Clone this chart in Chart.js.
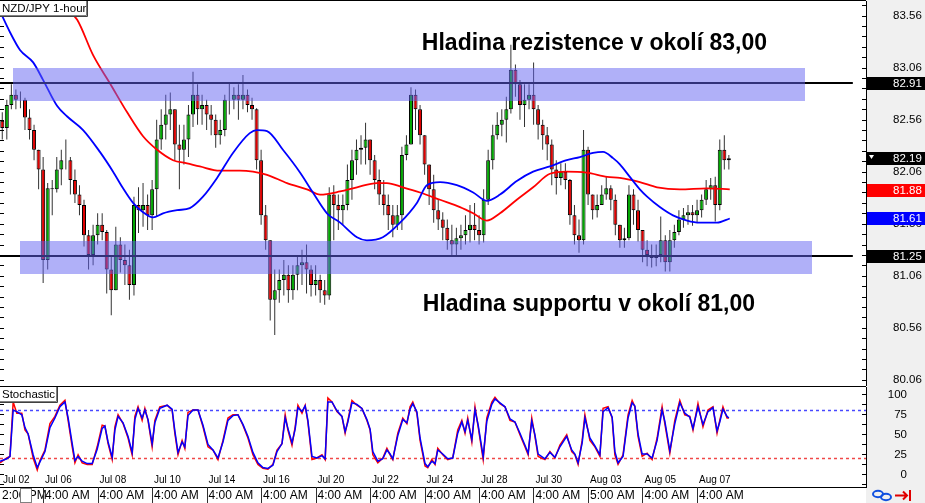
<!DOCTYPE html>
<html>
<head>
<meta charset="utf-8">
<title>NZD/JPY 1-hour</title>
<script src="https://cdn.jsdelivr.net/npm/chart.js@4.4.1/dist/chart.umd.min.js"></script>
<style>
  html, body { margin:0; padding:0; background:#ffffff; }
  #wrap { position:relative; width:925px; height:503px; overflow:hidden; background:#ffffff; }
  #mainCanvas { position:absolute; left:0; top:0; }
  #stochCanvas { position:absolute; left:0; top:386px; }
</style>
</head>
<body>
<div id="wrap">
  <canvas id="mainCanvas" width="925" height="386"></canvas>
  <canvas id="stochCanvas" width="925" height="117"></canvas>
</div>
<script>
// ---------------- DATA (x = index of 4-hour candle) ----------------
const symbolTitle = 'NZD/JPY 1-hour';
const indicatorTitle = 'Stochastic';

const firstOpen = 82.55;
const candleClose = [
  82.48, 82.70, 82.80, 82.75, 82.75, 82.58, 82.46, 82.27, 82.08, 81.21,
  81.90, 81.89, 82.08, 82.17, 82.17, 81.98, 81.84, 81.74, 81.45, 81.26,
  81.45, 81.55, 81.48, 81.12, 80.92, 81.36, 81.21, 81.16, 80.97, 81.74,
  81.69, 81.74, 81.64, 81.89, 82.37, 82.51, 82.61, 82.66, 82.32, 82.27,
  82.37, 82.61, 82.80, 82.66, 82.70, 82.61, 82.56, 82.41, 82.46, 82.75,
  82.75, 82.80, 82.75, 82.80, 82.70, 82.66, 82.17, 81.64, 81.40, 80.83,
  80.92, 81.02, 81.07, 80.92, 81.07, 81.16, 81.19, 81.12, 80.97, 81.02,
  80.92, 80.87, 81.84, 81.74, 81.69, 81.74, 81.98, 82.17, 82.27, 82.29,
  82.37, 82.17, 81.98, 81.84, 81.74, 81.64, 81.55, 81.64, 82.22, 82.32,
  82.80, 82.66, 82.41, 82.13, 81.89, 81.69, 81.60, 81.52, 81.40, 81.36,
  81.42, 81.45, 81.50, 81.55, 81.50, 81.45, 81.79, 82.17, 82.41, 82.51,
  82.56, 82.66, 83.04, 82.90, 82.70, 82.75, 82.80, 82.66, 82.51, 82.41,
  82.32, 82.08, 82.00, 82.06, 81.98, 81.64, 81.45, 81.40, 82.27, 81.84,
  81.69, 81.74, 81.84, 81.90, 81.79, 81.55, 81.40, 81.42, 81.84, 81.69,
  81.50, 81.31, 81.26, 81.23, 81.26, 81.40, 81.19, 81.40, 81.48, 81.60,
  81.64, 81.67, 81.64, 81.69, 81.79, 81.89, 81.93, 81.74, 82.27, 82.17,
  82.19
];
const candleHigh = [
  82.63, 82.75, 82.90, 82.85, 82.83, 82.77, 82.66, 82.51, 82.27, 82.20,
  81.95, 81.98, 82.20, 82.27, 82.37, 82.20, 82.08, 81.93, 81.79, 81.50,
  81.55, 81.66, 81.66, 81.50, 81.26, 81.53, 81.43, 81.36, 81.31, 81.82,
  81.91, 81.95, 81.84, 81.98, 82.56, 82.66, 82.80, 82.82, 82.66, 82.51,
  82.51, 82.70, 83.02, 82.90, 82.80, 82.75, 82.70, 82.61, 82.56, 82.80,
  82.91, 82.87, 82.90, 82.99, 82.85, 82.77, 82.67, 82.27, 81.74, 81.40,
  81.12, 81.12, 81.21, 81.16, 81.16, 81.26, 81.31, 81.36, 81.16, 81.16,
  81.07, 81.02, 81.91, 81.93, 81.84, 81.84, 82.13, 82.27, 82.37, 82.41,
  82.53, 82.37, 82.22, 82.08, 81.98, 81.84, 81.74, 81.74, 82.30, 82.41,
  82.87, 82.85, 82.70, 82.41, 82.13, 82.03, 81.79, 81.67, 81.60, 81.55,
  81.52, 81.55, 81.64, 81.74, 81.76, 81.64, 81.89, 82.27, 82.51, 82.63,
  82.66, 82.78, 83.28, 83.09, 82.94, 82.90, 82.90, 83.11, 82.70, 82.56,
  82.49, 82.37, 82.17, 82.14, 82.14, 81.99, 81.74, 81.60, 82.46, 82.30,
  81.84, 81.84, 81.93, 82.01, 81.93, 81.84, 81.55, 81.52, 81.93, 81.89,
  81.79, 81.50, 81.40, 81.36, 81.36, 81.63, 81.45, 81.50, 81.55, 81.69,
  81.71, 81.74, 81.74, 81.79, 81.84, 81.98, 82.00, 82.01, 82.37, 82.41,
  82.22
];
const candleLow = [
  82.37, 82.37, 82.66, 82.66, 82.67, 82.46, 82.37, 82.17, 81.89, 80.99,
  81.12, 81.64, 81.86, 81.93, 82.08, 81.84, 81.76, 81.64, 81.34, 81.12,
  81.16, 81.36, 81.40, 80.89, 80.68, 80.92, 81.09, 80.97, 80.83, 80.87,
  81.47, 81.53, 81.50, 81.50, 81.63, 82.27, 82.37, 82.46, 82.17, 81.89,
  82.13, 82.20, 82.49, 82.51, 82.51, 82.46, 82.41, 82.29, 82.32, 82.40,
  82.61, 82.66, 82.56, 82.66, 82.63, 82.56, 82.08, 81.55, 81.31, 80.63,
  80.49, 80.80, 80.87, 80.80, 80.83, 80.92, 80.97, 80.89, 80.86, 80.87,
  80.80, 80.78, 80.83, 81.40, 81.50, 81.55, 81.69, 81.79, 82.03, 82.13,
  82.13, 82.03, 81.89, 81.74, 81.64, 81.50, 81.43, 81.50, 81.50, 82.17,
  82.32, 82.46, 82.32, 82.03, 81.74, 81.57, 81.50, 81.40, 81.31, 81.24,
  81.26, 81.31, 81.36, 81.38, 81.40, 81.36, 81.38, 81.74, 82.08, 82.37,
  82.40, 82.34, 82.62, 82.78, 82.56, 82.49, 82.66, 82.51, 82.37, 82.27,
  82.17, 81.93, 81.84, 81.93, 81.89, 81.55, 81.36, 81.28, 81.36, 81.74,
  81.60, 81.62, 81.74, 81.79, 81.69, 81.45, 81.33, 81.33, 81.40, 81.55,
  81.39, 81.19, 81.15, 81.14, 81.15, 81.19, 81.10, 81.10, 81.33, 81.45,
  81.52, 81.55, 81.54, 81.57, 81.62, 81.74, 81.79, 81.58, 81.69, 82.08,
  82.08
];

// moving averages (x = candle index, y = price)
const maFastX = [-0.5, 1.7, 3.9, 6.8, 9.0, 12.1, 14.3, 17.8, 21.5, 24.4, 26.6, 28.8, 31.0, 33.2, 35.4, 38.5, 41.3, 44.2, 47.3, 50.8, 54.5, 56.1, 58.3, 61.8, 65.6, 68.4, 71.5, 74.4, 78.1, 80.3, 83.8, 87.6, 91.3, 93.5, 96.4, 100.1, 103.7, 106.7, 109.6, 113.3, 116.9, 120.6, 124.3, 127.2, 130.1, 132.3, 134.5, 136.0, 138.2, 140.4, 142.0, 144.8, 147.7, 150.8, 153.6, 157.4, 160.2];
const maFastY = [83.60, 83.40, 83.23, 83.11, 82.94, 82.69, 82.59, 82.46, 82.25, 82.06, 81.90, 81.76, 81.67, 81.62, 81.66, 81.69, 81.71, 81.82, 82.00, 82.24, 82.43, 82.46, 82.45, 82.27, 82.05, 81.86, 81.66, 81.57, 81.43, 81.40, 81.43, 81.57, 81.76, 81.93, 81.96, 81.93, 81.86, 81.78, 81.84, 81.97, 82.06, 82.11, 82.17, 82.20, 82.24, 82.25, 82.19, 82.13, 82.01, 81.89, 81.82, 81.72, 81.64, 81.59, 81.57, 81.57, 81.61];
const maSlowX = [6.1, 12.1, 16.5, 20.0, 23.7, 27.5, 31.0, 34.1, 37.6, 40.7, 43.5, 47.9, 52.3, 55.2, 58.3, 62.7, 67.1, 70.0, 74.4, 78.1, 82.5, 84.7, 88.2, 92.0, 96.4, 100.8, 103.7, 106.7, 109.6, 113.3, 116.9, 120.6, 124.3, 128.7, 133.2, 136.0, 140.4, 144.2, 149.2, 155.2, 160.2];
const maSlowY = [84.19, 83.71, 83.52, 83.18, 82.91, 82.63, 82.40, 82.27, 82.17, 82.14, 82.11, 82.07, 82.07, 82.06, 82.03, 81.95, 81.89, 81.84, 81.87, 81.91, 81.95, 81.95, 81.91, 81.86, 81.79, 81.72, 81.66, 81.59, 81.66, 81.79, 81.91, 82.04, 82.06, 82.05, 82.01, 82.00, 81.96, 81.91, 81.89, 81.90, 81.89];

// stochastic oscillator
const stochX = [-0.5, 1.0, 1.7, 2.4, 3.2, 4.3, 5.0, 5.7, 6.8, 7.7,
  8.3, 9.4, 10.5, 11.6, 12.7, 13.8, 14.5, 15.4, 16.0, 16.7,
  17.6, 18.7, 19.8, 20.9, 22.0, 22.6, 23.3, 24.2, 24.8, 25.5,
  26.6, 27.7, 28.6, 29.2, 29.9, 30.8, 31.4, 32.1, 33.0, 33.6,
  34.7, 36.3, 37.4, 38.0, 38.7, 39.6, 40.2, 40.9, 42.0, 43.1,
  44.2, 45.3, 46.4, 47.5, 48.6, 49.7, 50.8, 51.9, 53.0, 54.1,
  55.2, 56.3, 57.4, 58.5, 59.6, 60.5, 61.6, 62.3, 62.9, 63.8,
  64.5, 65.1, 66.0, 66.7, 67.3, 68.2, 69.3, 70.4, 71.1, 71.7,
  72.6, 73.7, 74.8, 75.5, 76.1, 77.0, 78.1, 79.2, 80.3, 81.0,
  81.6, 82.7, 83.8, 84.7, 85.4, 86.0, 87.1, 88.2, 89.1, 89.8,
  90.4, 91.3, 92.0, 93.1, 93.7, 94.6, 95.3, 95.9, 97.0, 98.1,
  99.2, 100.3, 101.2, 101.9, 102.5, 103.4, 104.1, 104.8, 105.9, 106.7,
  107.8, 108.5, 109.6, 110.7, 111.8, 112.9, 114.0, 115.1, 115.8, 116.6,
  117.3, 118.0, 119.5, 120.6, 121.7, 122.8, 124.3, 125.4, 126.1, 126.8,
  127.7, 128.3, 129.4, 130.5, 131.6, 132.3, 133.4, 134.3, 134.9, 135.6,
  136.7, 137.8, 138.7, 139.3, 140.0, 140.9, 142.0, 143.1, 144.2, 145.3,
  145.9, 147.0, 148.1, 149.2, 150.3, 151.4, 152.1, 153.2, 154.3, 155.4,
  156.5, 157.4, 158.0, 158.7, 159.6, 160.0];
const stochMain = [14, 20, 22, 90, 76, 76, 55, 50, 20, 5,
  17, 30, 63, 72, 86, 92, 67, 34, 14, 24,
  14, 12, 12, 34, 61, 60, 38, 18, 59, 74,
  63, 45, 24, 72, 84, 67, 82, 67, 34, 67,
  84, 86, 80, 51, 24, 42, 32, 77, 80, 80,
  59, 34, 30, 18, 42, 70, 74, 74, 61, 45,
  24, 12, 7, 6, 12, 30, 38, 74, 55, 36,
  59, 86, 76, 86, 65, 18, 20, 24, 18, 95,
  90, 78, 72, 51, 67, 92, 86, 82, 67, 55,
  24, 14, 20, 32, 24, 18, 51, 70, 63, 84,
  90, 76, 42, 10, 8, 18, 12, 32, 24, 18,
  20, 55, 67, 51, 70, 40, 84, 59, 18, 70,
  90, 96, 88, 84, 67, 65, 49, 34, 24, 70,
  47, 22, 18, 28, 20, 36, 49, 28, 24, 12,
  42, 74, 42, 34, 22, 82, 84, 70, 24, 12,
  24, 74, 92, 84, 47, 22, 26, 18, 45, 84,
  63, 26, 67, 92, 74, 72, 55, 88, 59, 80,
  84, 51, 67, 84, 70, 70];
const stochSignal = [16, 19, 22, 80, 78, 74, 58, 50, 24, 8,
  15, 28, 58, 70, 84, 90, 70, 38, 17, 22,
  16, 13, 13, 31, 57, 60, 40, 21, 55, 72,
  64, 47, 27, 68, 82, 70, 80, 68, 38, 64,
  82, 86, 81, 54, 27, 40, 34, 73, 80, 80,
  61, 37, 30, 20, 40, 67, 73, 74, 62, 47,
  27, 14, 8, 7, 11, 28, 38, 70, 57, 39,
  56, 83, 78, 85, 67, 22, 20, 23, 19, 90,
  90, 79, 72, 53, 65, 89, 87, 82, 68, 56,
  28, 16, 19, 30, 25, 19, 48, 68, 64, 81,
  88, 78, 45, 13, 9, 16, 13, 30, 25, 19,
  20, 51, 65, 53, 67, 43, 80, 61, 22, 66,
  87, 94, 89, 84, 69, 65, 51, 36, 26, 66,
  49, 25, 19, 27, 21, 34, 47, 30, 25, 14,
  39, 70, 45, 35, 24, 78, 83, 71, 28, 14,
  22, 70, 89, 85, 50, 25, 25, 20, 42, 80,
  66, 29, 63, 89, 76, 71, 57, 84, 62, 78,
  83, 54, 65, 81, 72, 70];
const stochLevels = [80, 20];

// axes / labels
const priceTicks = [80.06, 80.56, 81.06, 81.56, 82.06, 82.56, 83.06, 83.56];
const stochTicks = [0, 25, 50, 75, 100];
const dateTickX = [-2.8, 9.2, 21.2, 33.2, 45.2, 57.2, 69.2, 81.2, 93.2, 105.2, 117.2, 129.2, 141.2, 153.2];
const dateLabels = ['Jul 02', 'Jul 06', 'Jul 08', 'Jul 10', 'Jul 14', 'Jul 16', 'Jul 20', 'Jul 22', 'Jul 24', 'Jul 28', 'Jul 30', 'Aug 03', 'Aug 05', 'Aug 07'];
const timeLabels = ['2:00 PM', '4:00 AM', '4:00 AM', '4:00 AM', '4:00 AM', '4:00 AM', '4:00 AM', '4:00 AM', '4:00 AM', '4:00 AM', '4:00 AM', '5:00 AM', '4:00 AM', '4:00 AM'];

// support / resistance (time in candle index, price)
const levelPrices = [82.91, 81.25];
const levelLineEnd = 187.3;
const zoneStart = [2.4, 3.9];
const zoneEnd = [176.7, 178.3];
const zoneLow = [82.74, 81.07];
const zoneHigh = [83.06, 81.39];
const noteTexts = ['Hladina rezistence v okolí 83,00', 'Hladina supportu v okolí 81,00'];
const noteX = [92.4, 92.6];
const notePrice = [83.233, 80.72];

// price markers on the right scale
const markerPrices = [82.91, 82.19, 81.88, 81.61, 81.25];
const markerColors = ['#000000', '#000000', '#ff0000', '#0000ff', '#000000'];

// ---------------- RENDERING ----------------
const FONT = '"Liberation Sans", Arial, sans-serif';
const X_MIN = -0.5, X_MAX = 190.2;
const AXIS_W = 59;
const PANEL_BG = '#f0f0f0';
const UP = '#00a800', DOWN = '#e00000';

const idx = candleClose.map((_, i) => i);
const candleOpen = idx.map(i => i === 0 ? firstOpen : candleClose[i - 1]);

function labelBox(ctx, x, y, w, h, text, size) {
  ctx.save();
  ctx.fillStyle = '#ffffff';
  ctx.fillRect(x, y, w, h);
  ctx.strokeStyle = '#808080';
  ctx.lineWidth = 1;
  ctx.beginPath();
  ctx.moveTo(x + w - 0.5, y); ctx.lineTo(x + w - 0.5, y + h - 0.5); ctx.lineTo(x, y + h - 0.5);
  ctx.stroke();
  ctx.strokeStyle = '#404040';
  ctx.beginPath();
  ctx.moveTo(x + w + 0.5, y); ctx.lineTo(x + w + 0.5, y + h + 0.5); ctx.lineTo(x, y + h + 0.5);
  ctx.stroke();
  ctx.fillStyle = '#000';
  ctx.font = size + 'px ' + FONT;
  ctx.textBaseline = 'middle';
  ctx.textAlign = 'left';
  ctx.fillText(text, x + 2, y + h / 2 + 0.5);
  ctx.restore();
}

// draws the labels of a (hidden-label) y scale from its own ticks
function drawScaleLabels(ctx, scale, xPos, align, fmt) {
  ctx.save();
  ctx.fillStyle = '#000';
  ctx.font = '11.5px ' + FONT;
  ctx.textBaseline = 'middle';
  ctx.textAlign = align;
  scale.ticks.forEach(t => {
    ctx.fillText(fmt(t.value), xPos, scale.getPixelForValue(t.value) + 0.5);
  });
  ctx.restore();
}

const mainDecor = {
  id: 'mainDecor',
  beforeDraw(chart) {
    const { ctx, chartArea: a } = chart;
    ctx.save();
    ctx.fillStyle = PANEL_BG;
    ctx.fillRect(a.right, 0, chart.width - a.right, chart.height);
    ctx.restore();
  },
  afterDatasetsDraw(chart) {
    const { ctx, chartArea: a, scales: { x, y } } = chart;
    ctx.save();
    ctx.beginPath();
    ctx.rect(a.left, a.top, a.right - a.left, a.bottom - a.top);
    ctx.clip();
    ctx.strokeStyle = '#000';
    ctx.lineWidth = 2;
    levelPrices.forEach(p => {
      const py = Math.round(y.getPixelForValue(p));
      ctx.beginPath();
      ctx.moveTo(a.left, py);
      ctx.lineTo(x.getPixelForValue(levelLineEnd), py);
      ctx.stroke();
    });
    ctx.fillStyle = 'rgba(98, 98, 242, 0.5)';
    zoneStart.forEach((_, i) => {
      const x0 = x.getPixelForValue(zoneStart[i]);
      const x1 = x.getPixelForValue(zoneEnd[i]);
      const y0 = y.getPixelForValue(zoneHigh[i]);
      const y1 = y.getPixelForValue(zoneLow[i]);
      ctx.fillRect(Math.round(x0), Math.round(y0), Math.round(x1 - x0), Math.round(y1 - y0));
    });
    ctx.restore();

    ctx.save();
    ctx.fillStyle = '#000';
    ctx.font = 'bold 23px ' + FONT;
    ctx.textAlign = 'left';
    ctx.textBaseline = 'alphabetic';
    noteTexts.forEach((t, i) => {
      ctx.fillText(t, x.getPixelForValue(noteX[i]), y.getPixelForValue(notePrice[i]));
    });
    ctx.restore();
  },
  afterDraw(chart) {
    const { ctx, chartArea: a, scales: { y } } = chart;
    drawScaleLabels(ctx, y, a.right + 27, 'left', v => v.toFixed(2));
    ctx.save();
    ctx.strokeStyle = '#000';
    ctx.lineWidth = 1;
    for (let i = -1; i < 40; i++) {
      const v = priceTicks[0] + i * 0.1;
      if (v < y.min || v > y.max) continue;
      const py = Math.round(y.getPixelForValue(v)) + 0.5;
      ctx.beginPath();
      ctx.moveTo(a.left, py); ctx.lineTo(a.left + 4, py);
      ctx.moveTo(a.right - 4, py); ctx.lineTo(a.right, py);
      ctx.stroke();
    }
    ctx.beginPath();
    ctx.moveTo(0, 0.5); ctx.lineTo(a.right, 0.5);
    ctx.stroke();
    ctx.font = '11.5px ' + FONT;
    ctx.textBaseline = 'middle';
    markerPrices.forEach((p, i) => {
      const py = Math.round(y.getPixelForValue(p));
      ctx.fillStyle = markerColors[i];
      ctx.fillRect(a.right + 1, py - 6, chart.width - a.right - 1, 13);
      ctx.fillStyle = '#ffffff';
      ctx.textAlign = 'left';
      ctx.fillText(p.toFixed(2), a.right + 27, py + 1);
      if (i === 1) {
        ctx.beginPath();
        ctx.moveTo(a.right + 3, py - 3); ctx.lineTo(a.right + 8, py - 3); ctx.lineTo(a.right + 5.5, py + 1);
        ctx.closePath();
        ctx.fill();
      }
    });
    ctx.restore();
    labelBox(ctx, 0, 1, 87, 15, symbolTitle, 11.5);
  }
};

new Chart(document.getElementById('mainCanvas'), {
  type: 'bar',
  data: {
    datasets: [
      {
        type: 'line', label: 'MA fast', order: 0,
        data: maFastX.map((v, i) => ({ x: v, y: maFastY[i] })),
        borderColor: '#0000ff', borderWidth: 1.8, pointRadius: 0, cubicInterpolationMode: 'monotone'
      },
      {
        type: 'line', label: 'MA slow', order: 1,
        data: maSlowX.map((v, i) => ({ x: v, y: maSlowY[i] })),
        borderColor: '#ff0000', borderWidth: 1.8, pointRadius: 0, cubicInterpolationMode: 'monotone'
      },
      {
        label: 'body', order: 2, grouped: false,
        data: idx.map(i => ({ x: i, y: [candleOpen[i], candleClose[i]] })),
        backgroundColor: idx.map(i => candleClose[i] >= candleOpen[i] ? UP : DOWN),
        borderColor: '#000000', borderWidth: 1, borderSkipped: false,
        barThickness: 4, inflateAmount: 0
      },
      {
        label: 'wick', order: 3, grouped: false,
        data: idx.map(i => ({ x: i, y: [candleLow[i], candleHigh[i]] })),
        backgroundColor: '#333333', barThickness: 1, inflateAmount: 0
      }
    ]
  },
  options: {
    responsive: false, animation: false, devicePixelRatio: 1,
    layout: { padding: { top: 1, bottom: 1, left: 0, right: 0 } },
    plugins: { legend: { display: false }, tooltip: { enabled: false } },
    scales: {
      x: { type: 'linear', min: X_MIN, max: X_MAX, offset: false, display: false },
      y: {
        position: 'right', min: 80.01, max: 83.70,
        afterFit(s) { s.width = AXIS_W; },
        afterBuildTicks(s) { s.ticks = priceTicks.map(v => ({ value: v })); },
        grid: { display: false, drawTicks: false },
        border: { display: true, color: '#000000', width: 1 },
        ticks: { display: false, autoSkip: false }
      }
    }
  },
  plugins: [mainDecor]
});

const stochDecor = {
  id: 'stochDecor',
  beforeDraw(chart) {
    const { ctx, chartArea: a } = chart;
    ctx.save();
    ctx.fillStyle = PANEL_BG;
    ctx.fillRect(a.right, 0, chart.width - a.right, chart.height);
    ctx.fillStyle = '#ffffff';
    ctx.fillRect(0, a.bottom, a.right, chart.height - a.bottom);
    ctx.restore();
  },
  beforeDatasetsDraw(chart) {
    const { ctx, chartArea: a, scales: { y } } = chart;
    ctx.save();
    ctx.lineWidth = 1.5;
    ctx.setLineDash([3, 3]);
    const cols = ['#4848ff', '#f04848'];
    stochLevels.forEach((lv, i) => {
      const py = Math.round(y.getPixelForValue(lv)) + 0.5;
      ctx.strokeStyle = cols[i];
      ctx.beginPath();
      ctx.moveTo(a.left, py); ctx.lineTo(a.right, py);
      ctx.stroke();
    });
    ctx.restore();
  },
  afterDraw(chart) {
    const { ctx, chartArea: a, scales: { x, y } } = chart;
    drawScaleLabels(ctx, y, 907, 'right', v => String(v));
    ctx.save();
    ctx.strokeStyle = '#000';
    ctx.lineWidth = 1;
    ctx.beginPath();
    ctx.moveTo(0, 0.5); ctx.lineTo(a.right, 0.5);
    ctx.moveTo(0, a.bottom + 0.5); ctx.lineTo(a.right, a.bottom + 0.5);
    ctx.stroke();
    for (let v = -12.5; v <= 100; v += 12.5) {
      const py = Math.round(y.getPixelForValue(v)) + 0.5;
      ctx.beginPath();
      ctx.moveTo(a.left, py); ctx.lineTo(a.left + 4, py);
      ctx.moveTo(a.right - 4, py); ctx.lineTo(a.right, py);
      ctx.stroke();
    }
    ctx.fillStyle = '#000';
    ctx.font = '10px ' + FONT;
    ctx.textBaseline = 'middle';
    ctx.textAlign = 'left';
    dateTickX.forEach((t, i) => {
      const px = Math.max(x.getPixelForValue(t) + 1, a.left + 3);
      ctx.fillText(dateLabels[i], px, a.bottom - 7);
    });
    ctx.font = '12px ' + FONT;
    ctx.strokeStyle = '#303030';
    timeLabels.forEach((t, i) => {
      const tickPx = x.getPixelForValue(dateTickX[i]);
      const px = Math.max(tickPx + 1, a.left + 2);
      if (i > 0) {
        ctx.beginPath();
        ctx.moveTo(Math.round(tickPx - 1) + 0.5, a.bottom);
        ctx.lineTo(Math.round(tickPx - 1) + 0.5, chart.height);
        ctx.stroke();
      }
      ctx.fillText(t, px, a.bottom + 9);
    });
    ctx.fillStyle = '#ffffff';
    ctx.fillRect(20, a.bottom + 1, 12, 15);
    ctx.strokeStyle = '#808080';
    ctx.strokeRect(20.5, a.bottom + 1.5, 11, 14);
    ctx.strokeStyle = '#1050e0';
    ctx.lineWidth = 2;
    ctx.beginPath();
    ctx.ellipse(878, a.bottom + 7, 5, 3.2, 0, 0, Math.PI * 2);
    ctx.stroke();
    ctx.beginPath();
    ctx.ellipse(886, a.bottom + 10, 5, 3.2, 0, 0, Math.PI * 2);
    ctx.stroke();
    ctx.strokeStyle = '#e00000';
    ctx.beginPath();
    ctx.moveTo(895, a.bottom + 8.5); ctx.lineTo(907, a.bottom + 8.5);
    ctx.moveTo(903, a.bottom + 4.5); ctx.lineTo(907, a.bottom + 8.5); ctx.lineTo(903, a.bottom + 12.5);
    ctx.moveTo(910, a.bottom + 3); ctx.lineTo(910, a.bottom + 14);
    ctx.stroke();
    ctx.restore();
    labelBox(ctx, 0, 1, 57, 15, indicatorTitle, 11.5);
  }
};

new Chart(document.getElementById('stochCanvas'), {
  type: 'line',
  data: {
    datasets: [
      {
        label: 'Signal', order: 0,
        data: stochX.map((v, i) => ({ x: v, y: stochSignal[i] })),
        borderColor: '#0000ff', borderWidth: 1.5, pointRadius: 0, tension: 0
      },
      {
        label: 'Main', order: 1,
        data: stochX.map((v, i) => ({ x: v, y: stochMain[i] })),
        borderColor: '#ff0000', borderWidth: 1.5, pointRadius: 0, tension: 0
      }
    ]
  },
  options: {
    responsive: false, animation: false, devicePixelRatio: 1,
    layout: { padding: { top: 1, bottom: 16, left: 0, right: 0 } },
    plugins: { legend: { display: false }, tooltip: { enabled: false } },
    scales: {
      x: { type: 'linear', min: X_MIN, max: X_MAX, offset: false, display: false },
      y: {
        position: 'right', min: -16.25, max: 108.75,
        afterFit(s) { s.width = AXIS_W; },
        afterBuildTicks(s) { s.ticks = stochTicks.map(v => ({ value: v })); },
        grid: { display: false, drawTicks: false },
        border: { display: true, color: '#000000', width: 1 },
        ticks: { display: false, autoSkip: false }
      }
    }
  },
  plugins: [stochDecor]
});
</script>
</body>
</html>
